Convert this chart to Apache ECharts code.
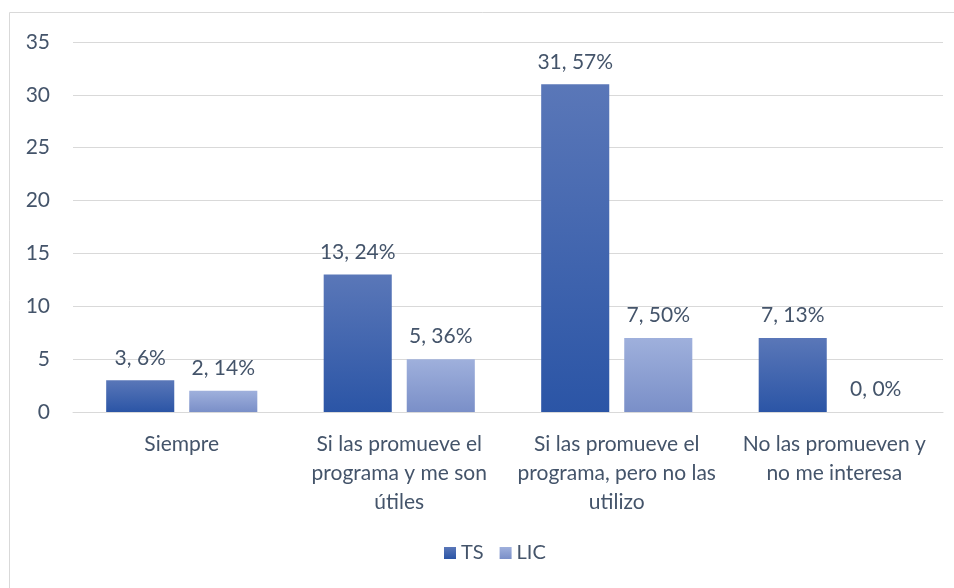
<!DOCTYPE html>
<html>
<head>
<meta charset="utf-8">
<script src="https://cdn.jsdelivr.net/npm/echarts@6/dist/echarts.min.js"></script>
<style>
  html, body { margin: 0; padding: 0; background: #fff; }
  #chart { width: 954px; height: 588px; }
</style>
</head>
<body>
<div id="chart"></div>
<script>
  var categories = [
    'Siempre',
    'Si las promueve el\nprograma y me son\nútiles',
    'Si las promueve el\nprograma, pero no las\nutilizo',
    'No las promueven y\nno me interesa'
  ];
  var tsValues = [3, 13, 31, 7];
  var tsPercents = ['6%', '24%', '57%', '13%'];
  var licValues = [2, 5, 7, 0];
  var licPercents = ['14%', '36%', '50%', '0%'];
  var yTicks = [0, 5, 10, 15, 20, 25, 30, 35];

  var textColor = '#44546a';
  var font = 'Lato, "Noto Sans", sans-serif';

  function grad(top, bottom) {
    return new echarts.graphic.LinearGradient(0, 0, 0, 1, [
      { offset: 0, color: top },
      { offset: 1, color: bottom }
    ]);
  }

  var myChart = echarts.init(document.getElementById('chart'));
  myChart.setOption({
    animation: false,
    textStyle: { fontFamily: font },
    graphic: [{
      type: 'rect',
      shape: { x: 9.5, y: 12.5, width: 980, height: 620 },
      style: { fill: 'none', stroke: '#d9d9d9', lineWidth: 1 },
      silent: true
    }],
    legend: {
      bottom: 20,
      left: 439,
      itemWidth: 12,
      itemHeight: 12,
      itemGap: 16,
      icon: 'rect',
      textStyle: { color: textColor, fontSize: 20, fontFamily: font },
      data: ['TS', 'LIC']
    },
    grid: { left: 73, right: 11, top: 42, bottom: 176 },
    xAxis: {
      type: 'category',
      data: categories,
      axisTick: { show: false },
      axisLine: { lineStyle: { color: '#d9d9d9' } },
      axisLabel: {
        color: textColor,
        fontSize: 21,
        lineHeight: 29,
        margin: 18,
        interval: 0,
        fontFamily: font
      }
    },
    yAxis: {
      type: 'value',
      min: yTicks[0],
      max: yTicks[yTicks.length - 1],
      interval: 5,
      axisLine: { show: false },
      axisTick: { show: false },
      axisLabel: { color: textColor, fontSize: 21, margin: 23, fontFamily: font },
      splitLine: { lineStyle: { color: '#d9d9d9' } }
    },
    series: [{
      name: 'TS',
      type: 'bar',
      data: tsValues,
      barWidth: '31.3%',
      barGap: '22%',
      itemStyle: { color: grad('#5a77b8', '#2b55a6') },
      label: {
        show: true,
        position: 'top',
        distance: 12,
        color: textColor,
        fontSize: 21,
        fontFamily: font,
        formatter: function (p) { return p.value + ', ' + tsPercents[p.dataIndex]; }
      }
    }, {
      name: 'LIC',
      type: 'bar',
      data: licValues,
      barWidth: '31.3%',
      itemStyle: { color: grad('#9fb0dc', '#7a8fc8') },
      label: {
        show: true,
        position: 'top',
        distance: 12,
        color: textColor,
        fontSize: 21,
        fontFamily: font,
        formatter: function (p) { return p.value + ', ' + licPercents[p.dataIndex]; }
      }
    }]
  });
</script>
</body>
</html>
